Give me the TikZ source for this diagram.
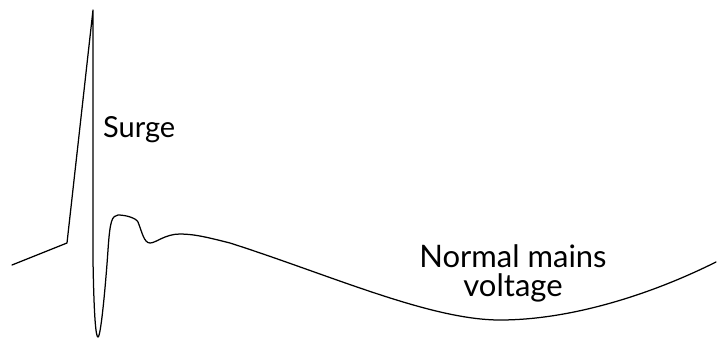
\documentclass[tikz,border=0pt]{standalone}
\usepackage{fontspec}
\setmainfont{Lato}
\begin{document}
\begin{tikzpicture}[x=1pt,y=-1pt,
  wave/.style={line width=1.25pt, line join=round, line cap=round},
  label/.style={font=\fontsize{29}{29}\selectfont, inner sep=0pt, align=center}]
\useasboundingbox (0,0) rectangle (718,338);
\draw[wave] (12,265) -- (67,243) -- (93,10) -- (93,260)
  .. controls (94,320) and (96,337) .. (98,337)
  .. controls (101,337) and (106,280) .. (108,250)
  .. controls (110,220) and (112,216) .. (118,215)
  .. controls (126,215) and (136,218) .. (138,222)
  .. controls (142,232) and (144,243) .. (150,243)
  .. controls (156,243) and (165,234) .. (180,234)
  .. controls (195,234) and (210,238) .. (230,243)
  .. controls (330,275) and (430,320) .. (500,320)
  .. controls (570,320) and (650,295) .. (716,262);
\node[label, anchor=base west] (surge) at (103,137) {Surge};
\node[label, font=\fontsize{31}{29}\selectfont, anchor=base] (normal) at (513,296) {Normal mains\\voltage};
\end{tikzpicture}
\end{document}
